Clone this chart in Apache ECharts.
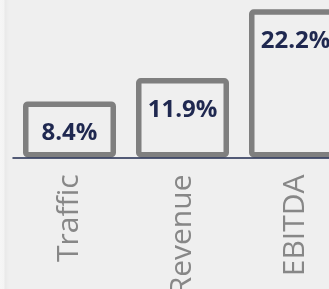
<!DOCTYPE html>
<html>
<head>
<meta charset="utf-8">
<script src="https://cdn.jsdelivr.net/npm/echarts@6/dist/echarts.min.js"></script>
<style>
  html, body { margin: 0; padding: 0; }
  body {
    background: linear-gradient(to right, #f6f6f6 0px, #f4f4f4 4px, #e9e9e9 5px, #efefef 9px, #efefef 100%);
  }
  #chart { width: 329px; height: 289px; }
</style>
</head>
<body>
<div id="chart"></div>
<script>
const categories = ["Traffic", "Revenue", "EBITDA"];
const growthValues = [8.4, 11.9, 22.2];

const chart = echarts.init(document.getElementById("chart"));
chart.setOption({
  animation: false,
  // grid runs past the right edge, the EBITDA bar is cut off like in the source
  grid: { left: 13, top: 3.9, width: 339, height: 153.6, outerBoundsMode: "none", containLabel: false },
  xAxis: {
    type: "category",
    data: categories,
    z: 5,
    axisLine: { lineStyle: { color: "#1f2a4f", width: 1.5 } },
    axisTick: { show: false },
    axisLabel: {
      rotate: 90,
      margin: 17,
      color: "#878787",
      fontFamily: "Open Sans",
      fontSize: 30,
    },
  },
  yAxis: {
    type: "value",
    min: 0,
    max: 23,
    show: false,
  },
  series: [
    {
      type: "bar",
      data: growthValues,
      barWidth: 93,
      itemStyle: {
        color: "#efefef",
        borderColor: "#7f7f7f",
        borderWidth: 5.5,
        borderRadius: 2,
      },
      label: {
        show: true,
        position: "insideTop",
        distance: 20,
        formatter: (p) => p.value.toFixed(1) + "%",
        color: "#1f2850",
        fontFamily: "Open Sans",
        fontWeight: "bold",
        fontSize: 24,
      },
    },
  ],
});
</script>
</body>
</html>
